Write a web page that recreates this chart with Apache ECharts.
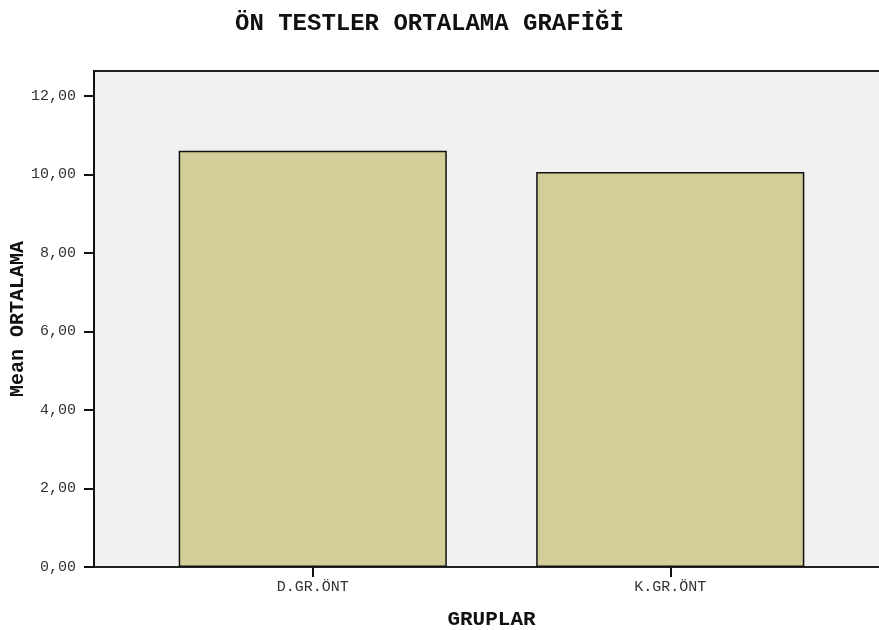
<!DOCTYPE html>
<html>
<head>
<meta charset="utf-8">
<script src="https://cdn.jsdelivr.net/npm/echarts@6/dist/echarts.min.js"></script>
<style>
  html, body { margin: 0; padding: 0; background: #fff; }
  #main { width: 879px; height: 630px; }
</style>
</head>
<body>
<div id="main"></div>
<script>
// veriler
var gruplar = ['D.GR.ÖNT', 'K.GR.ÖNT'];
var ortalamalar = [10.60, 10.06];
var yTicks = [0, 2, 4, 6, 8, 10, 12];
var yMax = 12.63;

var font = 'Liberation Mono';
var myChart = echarts.init(document.getElementById('main'));

option = {
	backgroundColor: '#fff',
	animation: false,
	title: {
		text: 'ÖN TESTLER ORTALAMA GRAFİĞİ',
		left: 230,
		top: 7,
		textStyle: { fontFamily: font, fontSize: 24, fontWeight: 'bold', color: '#111' }
	},
	grid: [
		// arka plan + sol eksen
		{ left: 94, right: -20, top: 71, bottom: 63, show: true, outerBoundsMode: 'none', containLabel: false,
		  backgroundColor: '#f0f0f0', borderColor: '#222', borderWidth: 2 },
		// çubuklar
		{ left: 134, right: 30, top: 71, bottom: 63, outerBoundsMode: 'none', containLabel: false }
	],
	xAxis: [
		{ gridIndex: 0, type: 'value', show: false },
		{
			gridIndex: 1,
			type: 'category',
			data: gruplar,
			name: 'GRUPLAR',
			nameLocation: 'middle',
			nameGap: 42,
			nameMoveOverlap: false,
			nameTextStyle: { fontFamily: font, fontSize: 21, fontWeight: 'bold', color: '#111' },
			axisLine: { show: false },
			axisTick: { show: true, alignWithLabel: true, length: 10, lineStyle: { color: '#111', width: 2 } },
			axisLabel: { fontFamily: font, fontSize: 15, color: '#333', margin: 13 }
		}
	],
	yAxis: [
		{
			gridIndex: 0,
			type: 'value',
			min: 0,
			max: yMax,
			name: 'Mean ORTALAMA',
			nameLocation: 'middle',
			nameGap: 66,
			nameRotate: 90,
			nameMoveOverlap: false,
			nameTextStyle: { fontFamily: font, fontSize: 20, fontWeight: 'bold', color: '#111' },
			splitLine: { show: false },
			axisLine: { show: true, lineStyle: { color: '#111', width: 2 } },
			axisTick: { show: true, length: 10, customValues: yTicks, lineStyle: { color: '#111', width: 2 } },
			axisLabel: {
				fontFamily: font, fontSize: 15, color: '#333', margin: 18,
				customValues: yTicks,
				formatter: function (v) { return v.toFixed(2).replace('.', ','); }
			}
		},
		{ gridIndex: 1, type: 'value', min: 0, max: yMax, show: false }
	],
	series: [{
		name: 'Mean ORTALAMA',
		type: 'bar',
		xAxisIndex: 1,
		yAxisIndex: 1,
		barWidth: '75%',
		itemStyle: { color: '#d3ce98', borderColor: '#111', borderWidth: 1.5 },
		data: ortalamalar
	}]
};

myChart.setOption(option);
</script>
</body>
</html>
